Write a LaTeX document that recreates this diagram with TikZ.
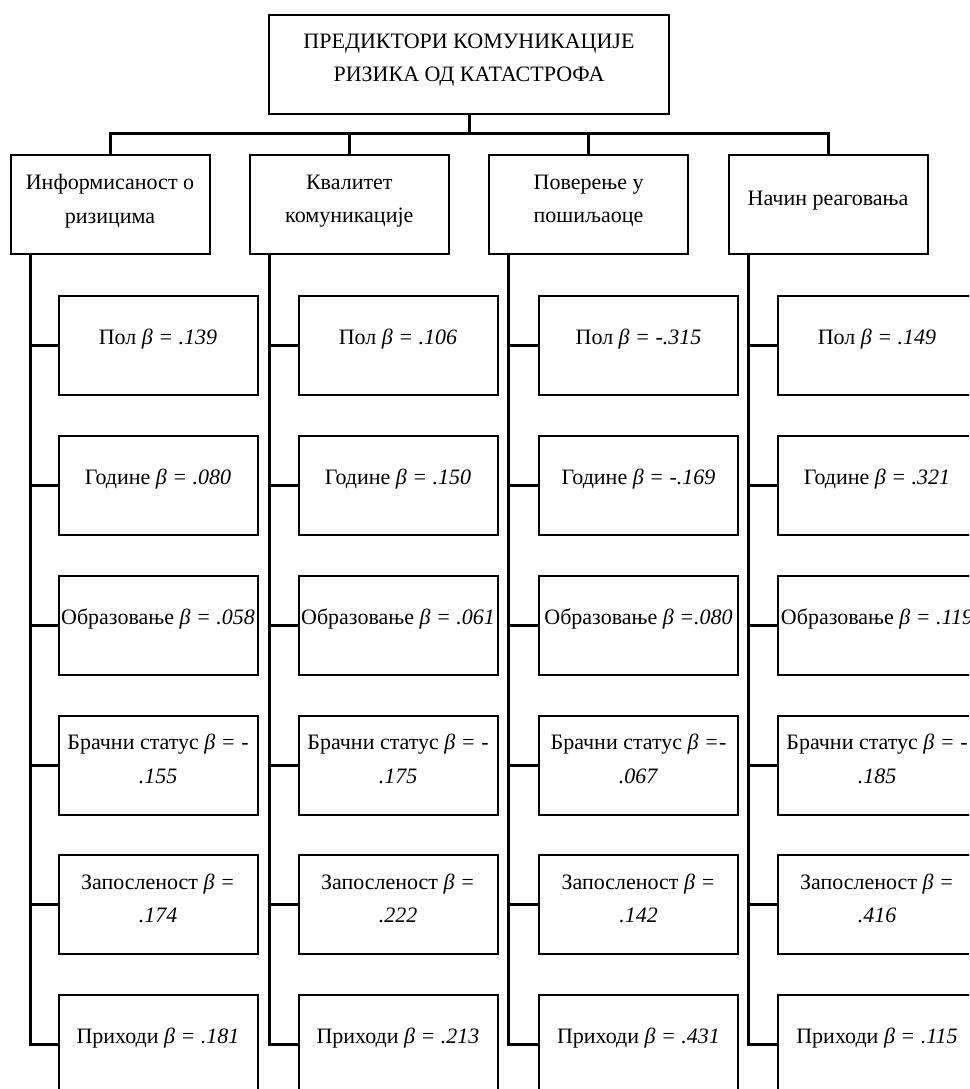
\documentclass[tikz,border=0pt]{standalone}
\usepackage{fontspec}
\setmainfont{Liberation Serif}
\usetikzlibrary{calc}
\newcommand\leafbox[5][6]{%
  \node[box] (#2) at (#3,#4) {};
  \node[txt] (#2t) at (#3,#4-#1) {#5};}
\begin{document}
\begin{tikzpicture}[x=1pt,y=-1pt,
  box/.style={draw, line width=2pt, minimum width=199pt, minimum height=99pt, inner sep=0pt},
  txt/.style={font=\fontsize{22}{33.5}\selectfont, align=center, inner sep=0pt},
  link/.style={line width=3pt}]
\useasboundingbox (0,0) rectangle (969,1089);
\clip (0,0) rectangle (969,1089);

% top
\node[box, minimum width=400pt] (top) at (469,64.5) {};
\node[txt] (topt) at (469,60) {ПРЕДИКТОРИ КОМУНИКАЦИЈЕ\\РИЗИКА ОД КАТАСТРОФА};

% level 1
\leafbox[3.5]{A}{110}{204.5}{Информисаност о\\ризицима}
\leafbox[3.5]{B}{349.3}{204.5}{Квалитет\\комуникације}
\leafbox[3.5]{C}{588.6}{204.5}{Поверење у\\пошиљаоце}
\leafbox[3.5]{D}{828}{204.5}{Начин реаговања}

% level 2, column A
\leafbox{A1}{158}{345.5}{Пол \textit{β = .139}}
\leafbox{A2}{158}{485}{Године \textit{β = .080}}
\leafbox{A3}{158}{625}{Образовање \textit{β = .058}}
\leafbox{A4}{158}{765}{Брачни статус \textit{β = -}\\\textit{.155}}
\leafbox{A5}{158}{904.5}{Запосленост \textit{β =}\\\textit{.174}}
\leafbox{A6}{158}{1044.5}{Приходи \textit{β = .181}}
% column B
\leafbox{B1}{398}{345.5}{Пол \textit{β = .106}}
\leafbox{B2}{398}{485}{Године \textit{β = .150}}
\leafbox{B3}{398}{625}{Образовање \textit{β = .061}}
\leafbox{B4}{398}{765}{Брачни статус \textit{β = -}\\\textit{.175}}
\leafbox{B5}{398}{904.5}{Запосленост \textit{β =}\\\textit{.222}}
\leafbox{B6}{398}{1044.5}{Приходи \textit{β = .213}}
% column C
\leafbox{C1}{638.5}{345.5}{Пол \textit{β = -.315}}
\leafbox{C2}{638.5}{485}{Године \textit{β = -.169}}
\leafbox{C3}{638.5}{625}{Образовање \textit{β =.080}}
\leafbox{C4}{638.5}{765}{Брачни статус \textit{β =-}\\\textit{.067}}
\leafbox{C5}{638.5}{904.5}{Запосленост \textit{β =}\\\textit{.142}}
\leafbox{C6}{638.5}{1044.5}{Приходи \textit{β = .431}}
% column D
\leafbox{D1}{877}{345.5}{Пол \textit{β = .149}}
\leafbox{D2}{877}{485}{Године \textit{β = .321}}
\leafbox{D3}{877}{625}{Образовање \textit{β = .119}}
\leafbox{D4}{877}{765}{Брачни статус \textit{β = -}\\\textit{.185}}
\leafbox{D5}{877}{904.5}{Запосленост \textit{β =}\\\textit{.416}}
\leafbox{D6}{877}{1044.5}{Приходи \textit{β = .115}}

% connectors from top
\coordinate (bar) at (469,134);
\draw[link] (top.south) -- (bar);
\draw[link] (A.north) |- (bar) -| (D.north);
\draw[link] (B.north) -- (B.north |- bar);
\draw[link] (C.north) -- (C.north |- bar);

% trunks
\foreach \c in {A,B,C,D}{
  \coordinate (\c t0) at ($(\c.south)+(-80,0)$);
  \draw[link] (\c t0) |- (\c6.west);
  \foreach \r in {1,...,5}{
    \draw[link] (\c\r.west) -- (\c\r.west -| \c t0);
  }
}
\end{tikzpicture}
\end{document}
